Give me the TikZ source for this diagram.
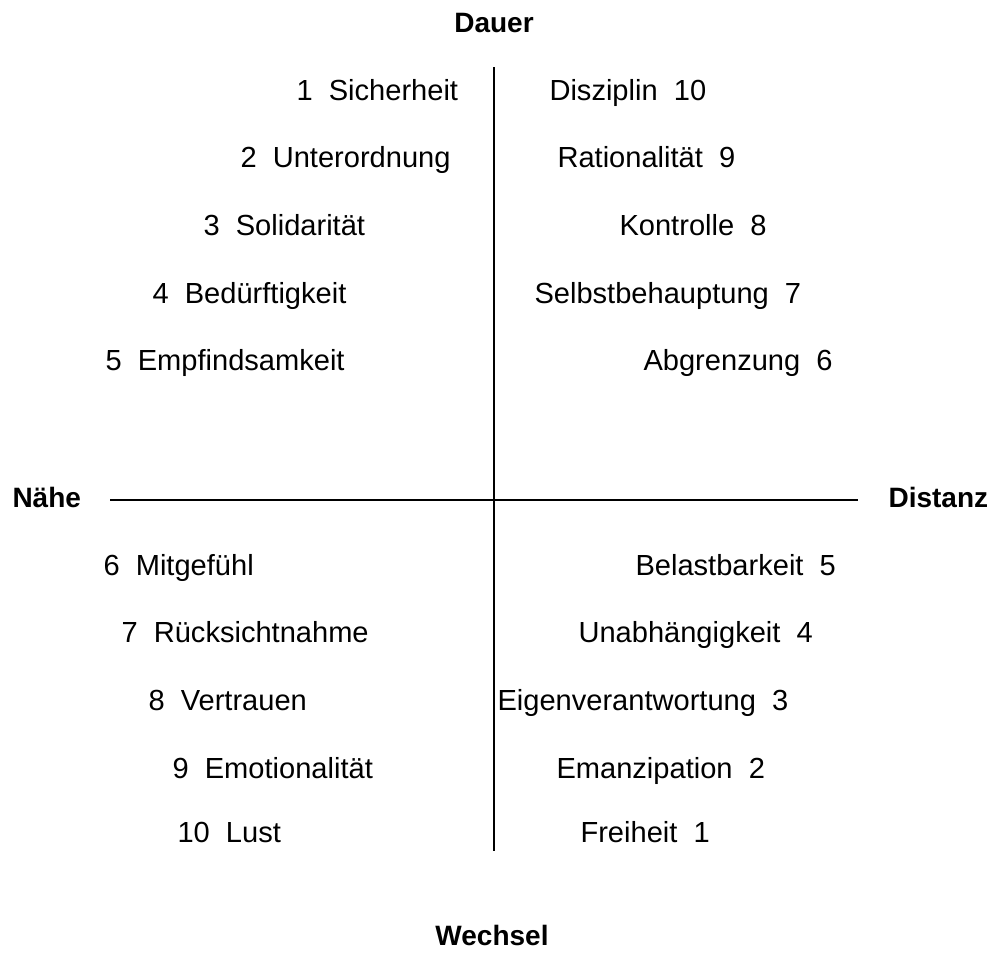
\documentclass[tikz,border=0pt]{standalone}
\usepackage{fontspec}
\setmainfont{Liberation Sans}
\usepackage{tikz}

\begin{document}
\begin{tikzpicture}[x=0.75pt,y=-0.75pt,thick,
  value node/.style={anchor=base west,inner sep=0pt,font=\fontsize{21.8}{25}\selectfont},
  pole node/.style={anchor=base,inner sep=0pt,font=\fontsize{21}{25}\selectfont\bfseries}]
  \useasboundingbox (0,0) rectangle (993,978);

  % axes
  \coordinate (top) at (494,67);
  \coordinate (bottom) at (494,851);
  \coordinate (west) at (110,500);
  \coordinate (east) at (858,500);
  \draw[line width=1.3pt] (top) -- (bottom);
  \draw[line width=1.3pt] (west) -- (east);

  % poles
  \node[pole node] (dauer) at (494,32) {Dauer};
  \node[pole node] (wechsel) at (492,945) {Wechsel};
  \node[pole node,anchor=base west] (naehe) at (12,507) {Nähe};
  \node[pole node,anchor=base west] (distanz) at (888,507) {Distanz};

  % upper left
  \node[value node] (s1) at (296,100) {1~~Sicherheit};
  \node[value node] (s2) at (240,167) {2~~Unterordnung};
  \node[value node] (s3) at (203,235) {3~~Solidarität};
  \node[value node] (s4) at (152,303) {4~~Bedürftigkeit};
  \node[value node] (s5) at (105,370) {5~~Empfindsamkeit};

  % upper right
  \node[value node] (d10) at (549,100) {Disziplin~~10};
  \node[value node] (d9) at (557,167) {Rationalität~~9};
  \node[value node] (d8) at (619,235) {Kontrolle~~8};
  \node[value node] (d7) at (534,303) {Selbstbehauptung~~7};
  \node[value node] (d6) at (643,370) {Abgrenzung~~6};

  % lower left
  \node[value node] (m6) at (103,575) {6~~Mitgefühl};
  \node[value node] (m7) at (121,642) {7~~Rücksichtnahme};
  \node[value node] (m8) at (148,710) {8~~Vertrauen};
  \node[value node] (m9) at (172,778) {9~~Emotionalität};
  \node[value node] (m10) at (177,842) {10~~Lust};

  % lower right
  \node[value node] (f5) at (635,575) {Belastbarkeit~~5};
  \node[value node] (f4) at (578,642) {Unabhängigkeit~~4};
  \node[value node] (f3) at (497,710) {Eigenverantwortung~~3};
  \node[value node] (f2) at (556,778) {Emanzipation~~2};
  \node[value node] (f1) at (580,842) {Freiheit~~1};
\end{tikzpicture}
\end{document}
